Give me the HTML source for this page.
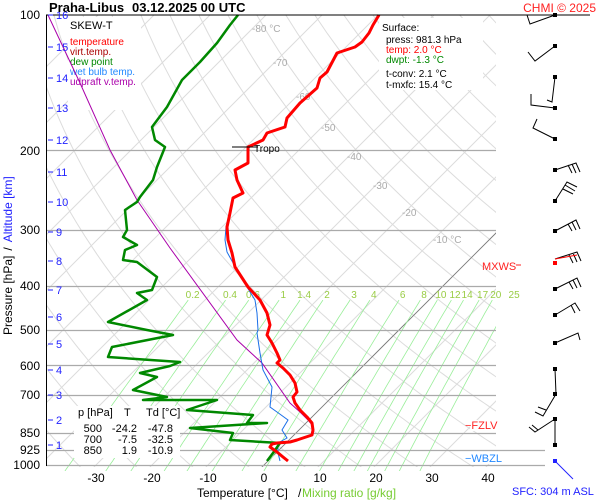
<!DOCTYPE html>
<html><head><meta charset="utf-8"><style>
body{margin:0;background:#fff;}
svg{display:block;font-family:"Liberation Sans",sans-serif;}
</style></head><body>
<svg id="s" width="600" height="500" viewBox="0 0 600 500" xmlns="http://www.w3.org/2000/svg">
<rect width="600" height="500" fill="#fff"/>
<defs><clipPath id="c"><rect x="46" y="15" width="450" height="452"/></clipPath>
<clipPath id="c2"><rect x="46" y="15" width="450" height="456"/></clipPath></defs>
<g id="grid" clip-path="url(#c)"></g>
<g id="mix" clip-path="url(#c2)"></g>
<g id="hl"></g>
<g font-size="10" fill="#aaa">
<text x="252" y="32">-80 °C</text><text x="273" y="66">-70</text><text x="296" y="100">-60</text>
<text x="321" y="131">-50</text><text x="347" y="160">-40</text><text x="373" y="189">-30</text>
<text x="402" y="216">-20</text><text x="433" y="243">-10 °C</text>
</g>
<rect x="68" y="17" width="73" height="93" fill="#fff"/>
<rect x="379" y="18" width="104" height="72" fill="#fff"/>
<g font-size="10">
<text x="70" y="29" font-size="11" fill="#000">SKEW-T</text>
<text x="70" y="45" fill="#f00">temperature</text>
<text x="70" y="55" fill="#a00">virt.temp.</text>
<text x="70" y="65" fill="#080">dew point</text>
<text x="70" y="75" fill="#28f">wet bulb temp.</text>
<text x="70" y="85" fill="#a0a">udpraft v.temp.</text>
<text x="382" y="31" fill="#000">Surface:</text>
<text x="386" y="43" fill="#000">press: 981.3 hPa</text>
<text x="386" y="53" fill="#f00">temp: 2.0 °C</text>
<text x="386" y="63" fill="#080">dwpt: -1.3 °C</text>
<text x="386" y="77" fill="#000">t-conv: 2.1 °C</text>
<text x="386" y="88" fill="#000">t-mxfc: 15.4 °C</text>
</g>
<polyline fill="none" stroke="#a0a" stroke-width="1" points="48,15 80,83 110,150 137,200 170,248 237,340 262,363 290,403 300,412 308,420 312,425"/>
<polyline fill="none" stroke="#1a6fe8" stroke-width="1" points="379,15 373,25 369,33 362,42 355,47 337,53 327,72 320,78 317,88 300,103 287,118 285,127 267,133 263,140 248,147 248,163 235,170 237,180 243,193 233,198 230,213 226,227 225,240 227,252 237,270 247,287 255,300 257,313 258,330 257,333 260,353 263,370 272,387 270,407 277,412 288,420 282,430 287,438 278,443 278,453 280,461"/>
<polyline fill="none" stroke="#080" stroke-width="2.5" stroke-linejoin="round" points="238,15 230,25 217,43 200,62 182,80 167,107 152,127 155,140 165,147 157,167 153,180 140,197 137,202 125,210 127,230 123,237 137,245 125,250 123,260 137,262 157,277 152,290 137,293 147,300 108,322 147,330 173,335 112,347 108,357 180,362 170,366 140,373 157,377 133,390 167,397 143,400 217,400 187,410 253,415 247,423 267,423 190,428 233,433 230,440 280,443 273,453 267,461"/>
<polyline fill="none" stroke="#f00" stroke-width="3" stroke-linejoin="round" points="379,15 373,25 369,33 362,42 355,47 337,53 327,72 320,78 317,88 300,103 287,118 285,127 267,133 263,140 248,147 248,163 235,170 237,180 243,193 233,198 230,213 227,227 228,240 232,253 235,267 248,287 260,300 267,313 270,325 267,335 272,343 277,353 280,360 277,363 283,368 290,375 295,383 297,392 293,397 295,403 300,410 307,417 312,423 313,430 312,435 303,438 297,440 290,442 277,443 272,444 270,447 277,452 283,457 288,461"/>
<line x1="232" y1="147" x2="258" y2="147" stroke="#000" stroke-width="1"/>
<text x="254" y="152" font-size="10">Tropo</text>
<line x1="46" y1="15" x2="590" y2="15" stroke="#000"/>
<line x1="46.5" y1="15" x2="46.5" y2="466" stroke="#000"/>
<g font-size="12" text-anchor="end" fill="#000">
<text x="40" y="19">100</text><text x="40" y="155">200</text><text x="40" y="234">300</text>
<text x="40" y="290">400</text><text x="40" y="334">500</text><text x="40" y="370">600</text>
<text x="40" y="399">700</text><text x="40" y="437">850</text><text x="40" y="454">925</text><text x="40" y="469">1000</text>
</g>
<g id="km" font-size="11" fill="#22f"></g>
<g font-size="12" text-anchor="middle">
<text x="96" y="482">-30</text><text x="152" y="482">-20</text><text x="208" y="482">-10</text><text x="264" y="482">0</text>
<text x="320" y="482">10</text><text x="376" y="482">20</text><text x="432" y="482">30</text><text x="488" y="482">40</text>
</g>
<text x="197" y="497" font-size="12">Temperature [°C]</text>
<text x="298" y="497" font-size="12">/</text>
<text x="302" y="497" font-size="12" fill="#7c3">Mixing ratio [g/kg]</text>
<text transform="translate(12,335) rotate(-90)" font-size="12"><tspan fill="#000">Pressure [hPa]</tspan><tspan fill="#000" dx="5">/</tspan><tspan fill="#22f" dx="5">Altitude [km]</tspan></text>
<text x="49" y="12" font-size="13" font-weight="bold">Praha-Libus</text>
<text x="132" y="12" font-size="13" font-weight="bold">03.12.2025 00 UTC</text>
<text x="596" y="12" font-size="12" fill="#f22" text-anchor="end">CHMI © 2025</text>
<rect x="74" y="406" width="106" height="52" fill="#fff"/>
<g font-size="11">
<text x="78" y="416">p [hPa]</text><text x="124" y="416">T</text><text x="146" y="416">Td [°C]</text>
</g>
<g font-size="11" text-anchor="end">
<text x="102" y="432">500</text><text x="137" y="432">-24.2</text><text x="173" y="432">-47.8</text>
<text x="102" y="443">700</text><text x="137" y="443">-7.5</text><text x="173" y="443">-32.5</text>
<text x="102" y="454">850</text><text x="137" y="454">1.9</text><text x="173" y="454">-10.9</text>
</g>
<g font-size="11">
<text x="482" y="270" fill="#f22">MXWS</text><line x1="516" y1="265" x2="521" y2="265" stroke="#f22"/>
<rect x="470" y="420" width="38" height="11" fill="#fff"/>
<text x="465" y="429" fill="#f22">−FZLV</text>
<rect x="470" y="453" width="35" height="11" fill="#fff"/>
<text x="465" y="462" fill="#28f">−WBZL</text>
<text x="512" y="495" fill="#22f" font-size="11">SFC: 304 m ASL</text>
</g>
<g stroke="#000" stroke-width="1" fill="none">
<path d="M555,15 L530,24 L527,15"/><path d="M555,46 L535,61 L528,52"/>
<path d="M555,77 L552,102 L547,100"/><path d="M555,108 L531,105 L531,94"/>
<path d="M555,139 L533,128 L537,119"/>
<path d="M555,170 L576,163 L580,172 M572,164 L576,173 M568,165 L572,173"/>
<path d="M555,201 L567,182 L577,187 M565,185 L575,191 M563,189 L573,194"/>
<path d="M555,231 L576,220 L580,229 M572,222 L576,230 M568,224 L572,231"/>
<path d="M555,259 L577,252 L581,261 M573,253 L577,262 M569,255 L573,263"/>
<path d="M555,289 L577,278 L581,287 M573,280 L577,288 M569,282 L573,289"/>
<path d="M555,315 L575,303 L580,311 M571,305 L575,313"/>
<path d="M555,343 L578,333 L580,340"/>
<path d="M555,369 L556,394 L543,416 L535,412 M546,410 L538,407"/>
<path d="M555,419 L555,445 M555,419 L535,432 L529,427 M538,430 L532,425"/>
</g>
<path d="M555,259 L577,255" stroke="#f00"/>
<g fill="#000"><rect x="553" y="13" width="4" height="4"/><rect x="553" y="44" width="4" height="4"/><rect x="553" y="75" width="4" height="4"/><rect x="553" y="106" width="4" height="4"/><rect x="553" y="137" width="4" height="4"/><rect x="553" y="168" width="4" height="4"/><rect x="553" y="199" width="4" height="4"/><rect x="553" y="229" width="4" height="4"/><rect x="553" y="287" width="4" height="4"/><rect x="553" y="313" width="4" height="4"/><rect x="553" y="341" width="4" height="4"/><rect x="553" y="367" width="4" height="4"/><rect x="553" y="392" width="4" height="4"/><rect x="553" y="417" width="4" height="4"/><rect x="553" y="443" width="4" height="4"/></g>
<rect x="553" y="261" width="4" height="4" fill="#f00"/>
<rect x="553" y="459" width="4" height="4" fill="#22f"/><line x1="555" y1="461" x2="573" y2="479" stroke="#22f"/>
</svg>
<script>
var NS="http://www.w3.org/2000/svg";
function Y(p){return 15+450*Math.log10(p/100);}
function X(T,y){return 264+5.6*T+(465-y);}
function ln(g,d,c,w){var e=document.createElementNS(NS,"path");e.setAttribute("d",d);e.setAttribute("stroke",c);e.setAttribute("stroke-width",w);e.setAttribute("fill","none");g.appendChild(e);}
var grid=document.getElementById("grid"),mix=document.getElementById("mix"),hl=document.getElementById("hl");
for(var T=-160;T<=50;T+=10){var y1=470,y2=15;ln(grid,"M"+X(T,y1)+","+y1+"L"+X(T,y2)+","+y2,"#dcdcdc",1);}
for(var th=230;th<=520;th+=10){var d="";for(var p=1050;p>=100;p-=10){var Tk=th*Math.pow(p/1000,0.286);var y=Y(p);d+=(d?"L":"M")+X(Tk-273.15,y).toFixed(1)+","+y.toFixed(1);}ln(grid,d,"#dcdcdc",1);}
ln(grid,"M"+X(0,470)+",470L"+X(0,15)+",15","#777",0.8);
var ws=[0.2,0.4,0.6,1,1.4,2,3,4,6,8,10,12,14,17,20,25];
function td(w,p){var e=w*p/(622+w);var l=Math.log(e/6.112);return 243.5*l/(17.67-l);}
ws.forEach(function(w){var d="";for(var p=1060;p>=430;p-=10){var y=Y(p);d+=(d?"L":"M")+X(td(w,p),y).toFixed(1)+","+y.toFixed(1);}ln(mix,d,"#9e9",0.8);
var pl=100*Math.pow(10,(294-15)/450);var t=document.createElementNS(NS,"text");t.setAttribute("x",X(td(w,pl),294).toFixed(1));t.setAttribute("y",298);t.setAttribute("font-size","10");t.setAttribute("fill","#9c4");t.setAttribute("text-anchor","middle");t.textContent=w;document.getElementById("s").insertBefore(t,document.getElementById("hl"));});
[[200,496],[300,496],[400,496],[500,496],[600,496],[700,496],[850,496],[925,545],[1000,545]].forEach(function(a){var y=Math.round(Y(a[0]))+0.5;ln(hl,"M46,"+y+"L"+a[1]+","+y,"#aaa",1.2);});
var km=document.getElementById("km");
[[1,445],[2,420],[3,395],[4,370],[5,344],[6,317],[7,290],[8,261],[9,232],[10,202],[11,172],[12,140],[13,108],[14,78],[15,47],[16,15]].forEach(function(a){ln(km,"M48,"+a[1]+"L53,"+a[1],"#22f",1);var t=document.createElementNS(NS,"text");t.setAttribute("x",56);t.setAttribute("y",a[1]+4);t.textContent=a[0];km.appendChild(t);});
</script>
</body></html>
